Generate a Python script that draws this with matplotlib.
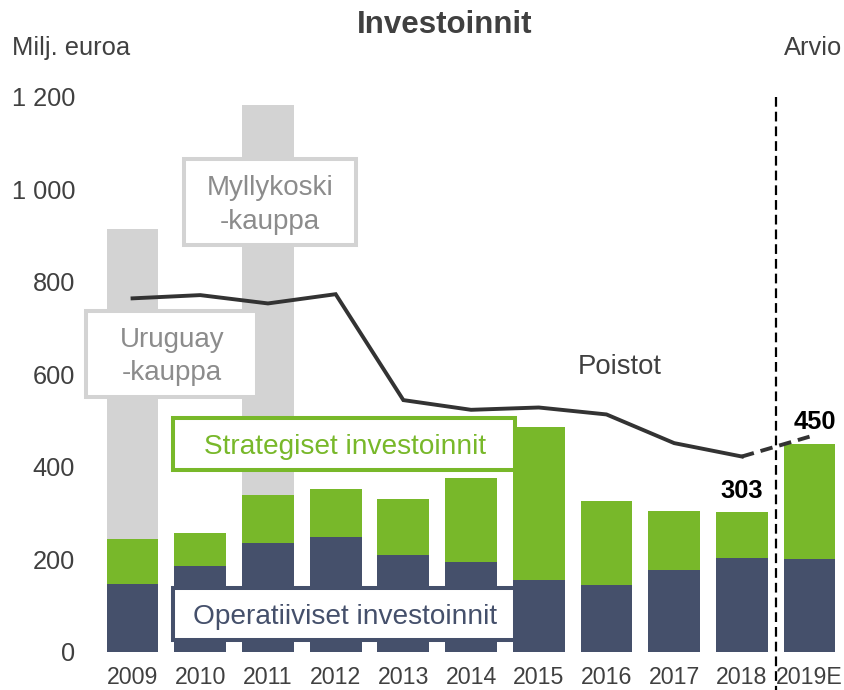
import matplotlib
matplotlib.use('Agg')
import matplotlib.pyplot as plt
from matplotlib.patches import Rectangle
import numpy as np

plt.rcParams['font.family'] = ['Liberation Sans', 'DejaVu Sans']
plt.rcParams['lines.scale_dashes'] = False

years = ['2009', '2010', '2011', '2012', '2013', '2014', '2015',
         '2016', '2017', '2018', '2019E']
operative = [147, 185, 236, 248, 209, 193, 154, 144, 177, 203, 200]
strategic = [96, 71, 103, 104, 121, 182, 332, 182, 127, 100, 250]
acquisitions = [672, 0, 844, 0, 0, 0, 0, 0, 0, 0, 0]
depreciation = [764, 771, 753, 773, 544, 523, 528, 513, 451, 422, 465]

navy = '#45506b'
green = '#78b82a'
light = '#d3d3d3'
dark = '#404040'
W, H = 845, 690


def px(x, y):
    # reference pixel -> figure fraction
    return x / W, 1 - y / H


fig = plt.figure(figsize=(W / 100, H / 100), dpi=100)
left, bottom = px(98.7, 651.7)
right, top = px(843.4, 96.7)
ax = fig.add_axes([left, bottom, right - left, top - bottom])

x = np.arange(len(years))
width = 0.764
operative = np.array(operative)
strategic = np.array(strategic)
acquisitions = np.array(acquisitions)
total = operative + strategic

ax.bar(x, operative, width, color=navy, zorder=2)
ax.bar(x, strategic, width, bottom=operative, color=green, zorder=2)
ax.bar(x, acquisitions, width, bottom=total, color=light, zorder=1)

# depreciation line, solid for actuals, dashed for the estimate
ax.plot(x[:-1], depreciation[:-1], color='#333333', lw=2.8, zorder=4,
        solid_joinstyle='miter')
ax.plot(x[-2:], depreciation[-2:], color='#333333', lw=2.8, zorder=4,
        dashes=(9, 5))

# estimate separator
ax.plot([9.5, 9.5], [1200, -83], color='black', lw=1.6, dashes=(7, 3.6),
        clip_on=False, zorder=5)

ax.set_xlim(-0.5, 10.5)
ax.set_ylim(0, 1200)
for s in ax.spines.values():
    s.set_visible(False)
ax.set_xticks(x)
ax.set_xticklabels(years, fontsize=16.7, color=dark)
yt = np.arange(0, 1201, 200)
ax.set_yticks(yt)
ax.set_yticklabels([f'{v:,}'.replace(',', ' ') for v in yt], fontsize=18.3,
                   color=dark)
ax.tick_params(axis='x', length=0, pad=10)
ax.tick_params(axis='y', length=0, pad=17)

ax.annotate(f'{total[9]}', (x[9], total[9]), xytext=(0, 9.5),
            textcoords='offset points', ha='center', va='baseline',
            fontsize=18.4, fontweight='bold', color='black')
ax.annotate(f'{total[10]}', (x[10], total[10]), xytext=(4, 10.5),
            textcoords='offset points', ha='center', va='baseline',
            fontsize=18.4, fontweight='bold', color='black')

# label boxes (outer pixel extents from the layout)
boxes = [
    ((182, 157, 358, 247), light),
    ((84.3, 309, 259, 399), light),
    ((171, 416, 517, 472), green),
    ((171, 586, 517, 642), navy),
]
for (x0, y0, x1, y1), ec in boxes:
    fx0, fy1 = px(x0 + 2, y1 - 2)
    fx1, fy0 = px(x1 - 2, y0 + 2)
    fig.add_artist(Rectangle((fx0, fy1), fx1 - fx0, fy0 - fy1,
                             transform=fig.transFigure, facecolor='white',
                             edgecolor=ec, lw=2.9, zorder=3))

labels = [
    ('Myllykoski', 270, 195, '#8c8c8c', 20),
    ('-kauppa', 270, 229, '#8c8c8c', 20),
    ('Uruguay', 172, 347, '#8c8c8c', 20),
    ('-kauppa', 172, 380, '#8c8c8c', 20),
    ('Strategiset investoinnit', 345, 454, green, 20.2),
    ('Operatiiviset investoinnit', 345, 624, navy, 20.2),
    ('Poistot', 620, 374, dark, 19.8),
]
for txt, lx, ly, c, fs in labels:
    fx, fy = px(lx, ly)
    fig.text(fx, fy, txt, ha='center', va='baseline', color=c,
             fontsize=fs, zorder=4)

fx, fy = px(445, 33)
fig.text(fx, fy, 'Investoinnit', ha='center', va='baseline', fontsize=22.5,
         fontweight='bold', color=dark)
fx, fy = px(12, 55)
fig.text(fx, fy, 'Milj. euroa', ha='left', va='baseline', fontsize=18.4,
         color=dark)
fx, fy = px(842, 55)
fig.text(fx, fy, 'Arvio', ha='right', va='baseline', fontsize=18.4,
         color=dark)

fig.savefig('out.png', dpi=100)
plt.close()
